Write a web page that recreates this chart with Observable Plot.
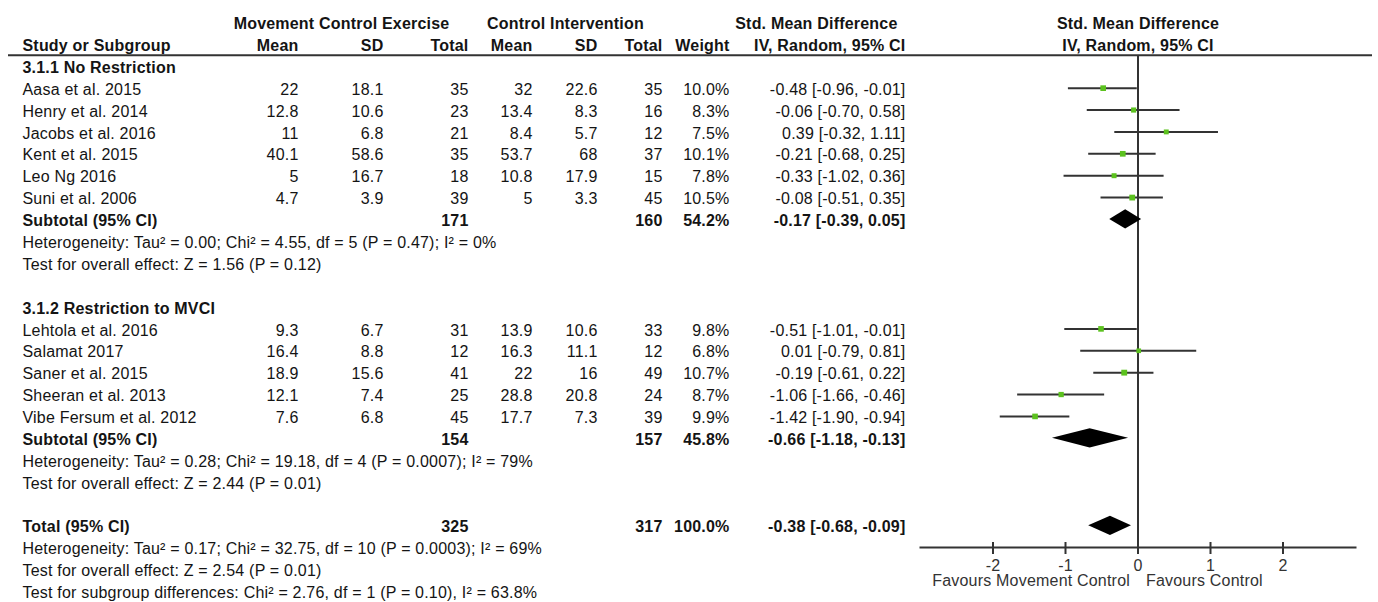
<!DOCTYPE html>
<html><head><meta charset="utf-8">
<script src="https://cdn.jsdelivr.net/npm/d3@7"></script>
<script src="https://cdn.jsdelivr.net/npm/@observablehq/plot@0.6"></script>
<style>
body{margin:0;background:#fff;}
#wrap{position:relative;width:1378px;height:602px;overflow:hidden;background:#fff;}
#wrap svg{position:absolute;left:0;top:0;}
#wrap text{letter-spacing:0.2px;}
</style></head><body><div id="wrap"></div>
<script>
// ---------- data ----------
const groupLabels = ["3.1.1 No Restriction", "3.1.2 Restriction to MVCI"];
const studies = ["Aasa et al. 2015","Henry et al. 2014","Jacobs et al. 2016","Kent et al. 2015","Leo Ng 2016","Suni et al. 2006","Lehtola et al. 2016","Salamat 2017","Saner et al. 2015","Sheeran et al. 2013","Vibe Fersum et al. 2012"];
const studyGroup = [0,0,0,0,0,0,1,1,1,1,1];
const mceMean = [22,12.8,11,40.1,5,4.7,9.3,16.4,18.9,12.1,7.6];
const mceSD = [18.1,10.6,6.8,58.6,16.7,3.9,6.7,8.8,15.6,7.4,6.8];
const mceTotal = [35,23,21,35,18,39,31,12,41,25,45];
const ctlMean = [32,13.4,8.4,53.7,10.8,5,13.9,16.3,22,28.8,17.7];
const ctlSD = [22.6,8.3,5.7,68,17.9,3.3,10.6,11.1,16,20.8,7.3];
const ctlTotal = [35,16,12,37,15,45,33,12,49,24,39];
const weight = [10.0,8.3,7.5,10.1,7.8,10.5,9.8,6.8,10.7,8.7,9.9];
const smd = [-0.48,-0.06,0.39,-0.21,-0.33,-0.08,-0.51,0.01,-0.19,-1.06,-1.42];
const smdLo = [-0.96,-0.70,-0.32,-0.68,-1.02,-0.51,-1.01,-0.79,-0.61,-1.66,-1.90];
const smdHi = [-0.01,0.58,1.11,0.25,0.36,0.35,-0.01,0.81,0.22,-0.46,-0.94];

const summaryLabels = ["Subtotal (95% CI)","Subtotal (95% CI)","Total (95% CI)"];
const summaryMceTotal = [171,154,325];
const summaryCtlTotal = [160,157,317];
const summaryWeight = [54.2,45.8,100.0];
const summarySmd = [-0.17,-0.66,-0.38];
const summaryLo = [-0.39,-1.18,-0.68];
const summaryHi = [0.05,-0.13,-0.09];
const summaryNotes = [
  ["Heterogeneity: Tau² = 0.00; Chi² = 4.55, df = 5 (P = 0.47); I² = 0%", "Test for overall effect: Z = 1.56 (P = 0.12)"],
  ["Heterogeneity: Tau² = 0.28; Chi² = 19.18, df = 4 (P = 0.0007); I² = 79%", "Test for overall effect: Z = 2.44 (P = 0.01)"],
  ["Heterogeneity: Tau² = 0.17; Chi² = 32.75, df = 10 (P = 0.0003); I² = 69%", "Test for overall effect: Z = 2.54 (P = 0.01)", "Test for subgroup differences: Chi² = 2.76, df = 1 (P = 0.10), I² = 63.8%"]
];
const headerTop = ["Movement Control Exercise","Control Intervention","Std. Mean Difference"];
const headerCols = ["Study or Subgroup","Mean","SD","Total","Mean","SD","Total","Weight","IV, Random, 95% CI"];
const forestHeader = ["Std. Mean Difference","IV, Random, 95% CI"];
const axisTicks = [-2,-1,0,1,2];
const favoursLabels = ["Favours Movement Control","Favours Control"];

// ---------- layout (not data) ----------
const colKeys = ["name","mMean","mSD","mTot","cMean","cSD","cTot","w","ci"];
const colX = {name:22, mMean:298, mSD:383, mTot:468, cMean:532, cSD:597, cTot:662, w:729, ci:905, hMCE:341, hCTL:565, hSMD:897};
const colAnchor = k => k === "name" ? "start" : (k === "hMCE" || k === "hCTL") ? "middle" : "end";
const FONT = "'Liberation Sans', Arial, Helvetica, sans-serif";
const FS = 16;
const INK = "#141414";
const LINE = "#333";

// ---------- build rows ----------
const fmtCI = (e,l,h) => `${e.toFixed(2)} [${l.toFixed(2)}, ${h.toFixed(2)}]`;
const cells = [];
const studyRows = [];
const summaryRows = [];
["hMCE","hCTL","hSMD"].forEach((k,i) => cells.push({row:-3, col:k, text:headerTop[i], bold:true}));
colKeys.forEach((k,i) => cells.push({row:-2, col:k, text:headerCols[i], bold:true}));

let row = -1;
function addSummary(si) {
  cells.push({row, col:"name", text:summaryLabels[si], bold:true});
  cells.push({row, col:"mTot", text:String(summaryMceTotal[si]), bold:true});
  cells.push({row, col:"cTot", text:String(summaryCtlTotal[si]), bold:true});
  cells.push({row, col:"w", text:summaryWeight[si].toFixed(1) + "%", bold:true});
  cells.push({row, col:"ci", text:fmtCI(summarySmd[si], summaryLo[si], summaryHi[si]), bold:true});
  summaryRows.push({id:si, row, est:summarySmd[si], lo:summaryLo[si], hi:summaryHi[si]});
  row++;
  summaryNotes[si].forEach(t => { cells.push({row, col:"name", text:t, bold:false}); row++; });
}
groupLabels.forEach((g, gi) => {
  cells.push({row, col:"name", text:g, bold:true}); row++;
  studies.forEach((s, i) => {
    if (studyGroup[i] !== gi) return;
    const vals = [s, String(mceMean[i]), String(mceSD[i]), String(mceTotal[i]), String(ctlMean[i]), String(ctlSD[i]), String(ctlTotal[i]), weight[i].toFixed(1) + "%", fmtCI(smd[i], smdLo[i], smdHi[i])];
    colKeys.forEach((k, j) => cells.push({row, col:k, text:vals[j], bold:false}));
    studyRows.push({row, est:smd[i], lo:smdLo[i], hi:smdHi[i], w:weight[i]});
    row++;
  });
  addSummary(gi);
  row++;
});
addSummary(2);

// diamonds
const diamondPts = summaryRows.flatMap(d => [
  {id:d.id, x:d.lo, y1:d.row, y2:d.row},
  {id:d.id, x:d.est, y1:d.row - 0.44, y2:d.row + 0.44},
  {id:d.id, x:d.hi, y1:d.row, y2:d.row}
]);

const Y = {domain:[-3, 23], range:[22, 591], axis:null};

// ---------- table plot ----------
const textMarks = [];
for (const anchor of ["start","middle","end"]) {
  for (const bold of [true, false]) {
    const sub = cells.filter(c => colAnchor(c.col) === anchor && c.bold === bold);
    if (!sub.length) continue;
    textMarks.push(Plot.text(sub, {x: d => colX[d.col], y:"row", text:"text", textAnchor:anchor, fontWeight: bold ? "bold" : "normal", fontSize:FS, fill:INK, dy:1.5}));
  }
}
const table = Plot.plot({
  width:1378, height:602, margin:0,
  x:{domain:[0,1378], range:[0,1378], axis:null},
  y:Y,
  style:{fontFamily:FONT, background:"white"},
  marks:[
    Plot.ruleY([-1.5], {x1:8, x2:1372, stroke:LINE, strokeWidth:2}),
    ...textMarks
  ]
});

// ---------- forest plot ----------
const forest = Plot.plot({
  width:1378, height:602,
  marginLeft:920, marginRight:23, marginTop:55, marginBottom:55,
  x:{domain:[-3,3]},
  y:Y,
  r:{domain:[0,10.7], range:[0,3.3]},
  style:{fontFamily:FONT, background:"transparent"},
  marks:[
    Plot.ruleX([0], {stroke:LINE, strokeWidth:2}),
    Plot.frame({anchor:"bottom", stroke:LINE, strokeWidth:2}),
    Plot.axisX(axisTicks, {tickSize:12, dy:-5, fill:"none", stroke:LINE, strokeWidth:2, label:null}),
    Plot.axisX(axisTicks, {tickSize:0, tickPadding:12, stroke:"none", label:null, fontSize:FS, fill:LINE, tickFormat:d => String(d)}),
    Plot.ruleY(studyRows, {y:"row", x1:"lo", x2:"hi", stroke:LINE, strokeWidth:2}),
    Plot.dot(studyRows, {x:"est", y:"row", r:"w", symbol:"square", fill:"#5cc21f", stroke:null}),
    Plot.areaY(diamondPts, {x:"x", y1:"y1", y2:"y2", z:"id", fill:"black"}),
    Plot.text([forestHeader[0]], {x:0, y:-3, text:d => d, fontWeight:"bold", fontSize:FS, fill:INK, dy:1.5}),
    Plot.text([forestHeader[1]], {x:0, y:-2, text:d => d, fontWeight:"bold", fontSize:FS, fill:INK, dy:1.5}),
    Plot.text([favoursLabels[0]], {x:0, frameAnchor:"bottom", dy:38, dx:-8, text:d => d, textAnchor:"end", fontSize:FS, fill:LINE}),
    Plot.text([favoursLabels[1]], {x:0, frameAnchor:"bottom", dy:38, dx:8, text:d => d, textAnchor:"start", fontSize:FS, fill:LINE})
  ]
});

const wrap = document.getElementById("wrap");
wrap.appendChild(table);
wrap.appendChild(forest);
</script></body></html>
